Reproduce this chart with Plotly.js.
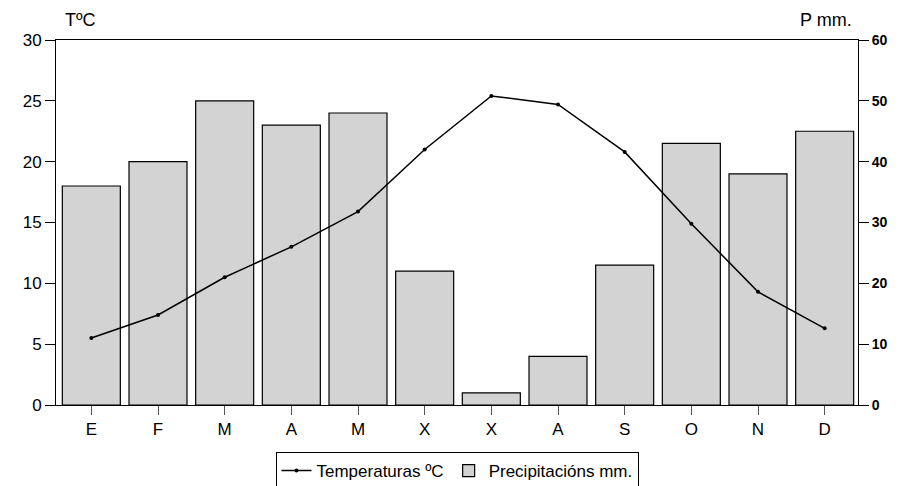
<!DOCTYPE html>
<html>
<head>
<meta charset="utf-8">
<script src="https://cdn.plot.ly/plotly-3.0.1.min.js"></script>
<style>html,body{margin:0;padding:0;background:#fff;}#chart{width:904px;height:486px;}</style>
</head>
<body>
<div id="chart"></div>
<script>
const months = ["E","F","M","A","M","X","X","A","S","O","N","D"];
const precipitation = [36, 40, 50, 46, 48, 22, 2, 8, 23, 43, 38, 45];
const temperature = [5.5, 7.4, 10.5, 13.0, 15.9, 21.0, 25.4, 24.7, 20.8, 14.9, 9.3, 6.3];
const xIndex = months.map((m, i) => i);

const font = "Liberation Sans, Arial, sans-serif";

const traces = [
  {
    type: "scatter", mode: "lines+markers",
    x: xIndex, y: temperature, yaxis: "y2",
    name: "Temperaturas ºC",
    line: {color: "#000", width: 1.5},
    marker: {color: "#000", size: 4}
  },
  {
    type: "bar",
    x: xIndex, y: precipitation, yaxis: "y",
    name: "Precipitacións mm.",
    marker: {color: "#d3d3d3", line: {color: "#000", width: 1.2}}
  }
];

const layout = {
  width: 904, height: 486,
  margin: {l: 56, r: 46, t: 40, b: 81},
  paper_bgcolor: "#fff", plot_bgcolor: "#fff",
  font: {family: font, color: "#000"},
  bargap: 0.13,
  showlegend: true,
  legend: {
    orientation: "h", x: 0.5, xanchor: "center",
    yref: "container", y: 0.07, yanchor: "top",
    bordercolor: "#000", borderwidth: 1, font: {size: 17, family: font},
    traceorder: "normal", itemwidth: 30
  },
  xaxis: {
    range: [-0.53, 11.5], tickvals: xIndex, ticktext: months,
    ticks: "outside", ticklen: 9, tickcolor: "#555", tickwidth: 1,
    showline: true, linecolor: "#000", linewidth: 1, mirror: true,
    showgrid: false, zeroline: false, tickfont: {size: 17}
  },
  yaxis: {
    range: [0, 60], dtick: 10, side: "right",
    ticks: "outside", ticklen: 10, tickcolor: "#000",
    showline: true, linecolor: "#000", linewidth: 1,
    showgrid: false, zeroline: false,
    tickfont: {size: 14, family: font, weight: "bold"}
  },
  yaxis2: {
    range: [0, 30], dtick: 5, overlaying: "y", side: "left",
    ticks: "outside", ticklen: 10, tickcolor: "#000",
    showline: true, linecolor: "#000", linewidth: 1,
    showgrid: false, zeroline: false, tickfont: {size: 17}
  },
  annotations: [
    {xref: "paper", yref: "paper", x: 0.03, y: 1.055, text: "TºC", showarrow: false,
     xanchor: "center", yanchor: "middle", font: {size: 18}},
    {xref: "paper", yref: "paper", x: 0.96, y: 1.055, text: "P mm.", showarrow: false,
     xanchor: "center", yanchor: "middle", font: {size: 18}}
  ]
};

Plotly.newPlot("chart", traces, layout, {displayModeBar: false, staticPlot: true});
</script>
</body>
</html>
